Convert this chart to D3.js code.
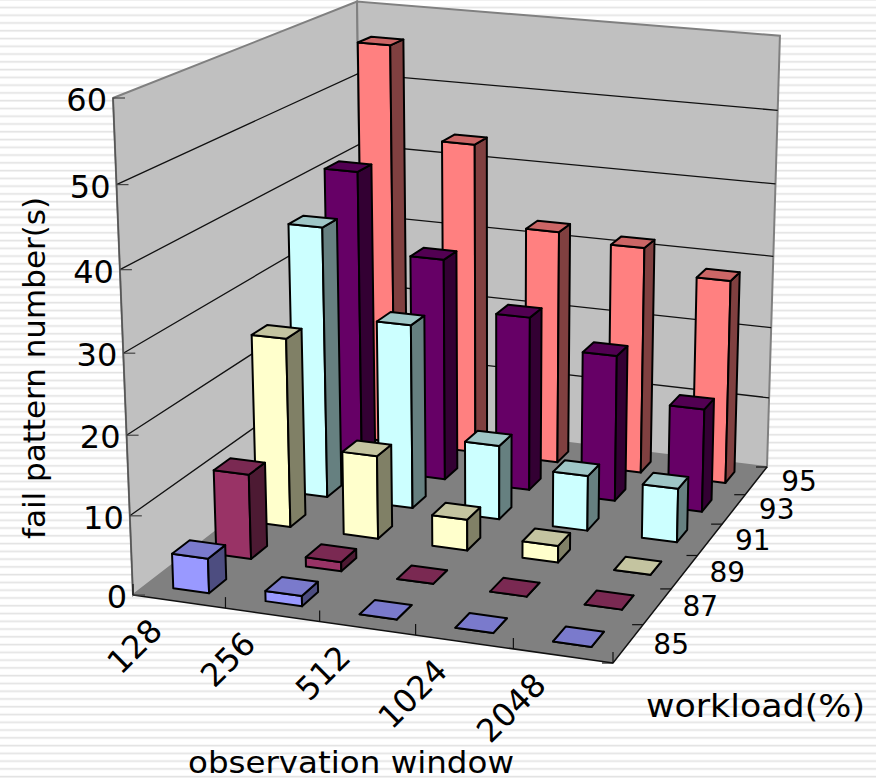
<!DOCTYPE html>
<html>
<head>
<meta charset="utf-8">
<script src="https://cdn.jsdelivr.net/npm/d3@7"></script>
<style>
    html, body { margin: 0; padding: 0; background: #fff; }
    svg { display: block; }
    text { font-family: "DejaVu Sans", sans-serif; fill: #000; }
</style>
</head>
<body>
<svg id="chart" width="876" height="779"></svg>
<script>
// data
let windows = ["128", "256", "512", "1024", "2048"];
let workloads = ["85", "87", "89", "91", "93", "95"];
let wl85 = [4.4, 1.3, 0, 0, 0];
let wl87 = [11, 1.2, 0, 0, 0];
let wl89 = [25, 11, 4.1, 2.2, 0];
let wl91 = [36.5, 24.8, 10, 7.4, 7.2];
let wl93 = [41.2, 30.5, 23.9, 20, 14.1];
let wl95 = [56, 43.5, 32.6, 31.6, 28.3];
let series = [wl85, wl87, wl89, wl91, wl93, wl95];
let yTicks = [0, 10, 20, 30, 40, 50, 60];

// front, side, top
let colors = [
    ["#9999ff", "#4d4d80", "#7a7acc"],
    ["#993366", "#4d1a33", "#7a2952"],
    ["#ffffcc", "#808066", "#c4c4a0"],
    ["#ccffff", "#668080", "#9fc6c6"],
    ["#660066", "#330033", "#520052"],
    ["#ff8080", "#804040", "#cc6666"]
];

let svg = d3.select("#chart");

// striped slide background
let pattern = svg.append("defs").append("pattern")
    .attr("id", "stripes")
    .attr("patternUnits", "userSpaceOnUse")
    .attr("width", 8).attr("height", 7.77);
pattern.append("rect").attr("width", 8).attr("height", 7.77).attr("fill", "#fff");
pattern.append("rect").attr("y", 6.6).attr("width", 8).attr("height", 1.17).attr("fill", "#e3e3e3");
pattern.append("rect").attr("y", 0).attr("width", 8).attr("height", 0.5).attr("fill", "#e3e3e3");
svg.append("rect").attr("width", 876).attr("height", 779).attr("fill", "url(#stripes)");

// the plot box, as seen on the picture
let A = [133, 595], B = [613, 663], C = [767, 467], D = [363, 418];
let vanish = [494, 9571];
let wallTopY = 98;

// floor homography, unit square -> A B C D
let sx = A[0] - B[0] + C[0] - D[0], sy = A[1] - B[1] + C[1] - D[1];
let dx1 = B[0] - C[0], dx2 = D[0] - C[0], dy1 = B[1] - C[1], dy2 = D[1] - C[1];
let den = dx1 * dy2 - dx2 * dy1;
let g = (sx * dy2 - dx2 * sy) / den;
let h = (dx1 * sy - sx * dy1) / den;
let a = B[0] - A[0] + g * B[0], b = D[0] - A[0] + h * D[0];
let d = B[1] - A[1] + g * B[1], e = D[1] - A[1] + h * D[1];
let s = (wallTopY - A[1]) / (vanish[1] - wallTopY);

function project(u, v, w) {
    let W = g * u + h * v + 1 + s * w;
    return [(a * u + b * v + A[0] + s * vanish[0] * w) / W,
            (d * u + e * v + A[1] + s * vanish[1] * w) / W];
}

let xScale = d3.scaleBand().domain(windows).range([0, 1]).paddingInner(0.61).paddingOuter(0.3).align(0.485);
let zScale = d3.scaleBand().domain(workloads).range([0, 1]).paddingInner(0.6).paddingOuter(0.3);
let yScale = d3.scaleLinear().domain([0, 60]).range([0, 1]);
let xStep = 1 / windows.length, zStep = 1 / workloads.length;

let line = d3.line();
function poly(pts) { return line(pts) + "Z"; }

// walls and floor
let wallTop = yScale(60);
svg.append("path")
    .attr("d", poly([project(0, 0, 0), project(0, 1, 0), project(0, 1, wallTop), project(0, 0, wallTop)]))
    .attr("fill", "#c0c0c0").attr("stroke", "#808080").attr("stroke-width", 2);
svg.append("path")
    .attr("d", poly([project(0, 1, 0), project(1, 1, 0), project(1, 1, wallTop), project(0, 1, wallTop)]))
    .attr("fill", "#c0c0c0").attr("stroke", "#808080").attr("stroke-width", 2);
svg.append("path")
    .attr("d", poly([project(0, 0, 0), project(1, 0, 0), project(1, 1, 0), project(0, 1, 0)]))
    .attr("fill", "#808080");

// gridlines
yTicks.filter(t => t > 0 && t < 60).forEach(t => {
    let w = yScale(t);
    svg.append("path")
        .attr("d", line([project(0, 0, w), project(0, 1, w), project(1, 1, w)]))
        .attr("fill", "none").attr("stroke", "#111").attr("stroke-width", 1.3);
});

// floor edges
svg.append("path")
    .attr("d", line([project(0, 0, 0), project(1, 0, 0), project(1, 1, 0)]))
    .attr("fill", "none").attr("stroke", "#111").attr("stroke-width", 1.5);
svg.append("path")
    .attr("d", line([project(0, 0, 0), project(0, 0, wallTop)]))
    .attr("fill", "none").attr("stroke", "#555").attr("stroke-width", 1.5);

// value axis
yTicks.forEach(t => {
    let p = project(0, 0, yScale(t));
    svg.append("line").attr("x1", p[0]).attr("x2", p[0] + 12).attr("y1", p[1]).attr("y2", p[1])
        .attr("stroke", "#444").attr("stroke-width", 1.2);
    svg.append("text").attr("x", p[0] - 6).attr("y", p[1] + 13)
        .attr("text-anchor", "end").attr("font-size", 32).text(t);
});

// window axis
d3.range(windows.length + 1).forEach(i => {
    let p = project(i * xStep, 0, 0);
    svg.append("line").attr("x1", p[0]).attr("x2", p[0]).attr("y1", p[1]).attr("y2", p[1] - 11)
        .attr("stroke", "#111").attr("stroke-width", 1.2);
});
windows.forEach((c, i) => {
    let p = project((i + 0.5) * xStep, 0, 0);
    svg.append("text")
        .attr("transform", "translate(" + (p[0] - 15) + "," + (p[1] + 31) + ") rotate(-45)")
        .attr("text-anchor", "end").attr("font-size", 32).text(c);
});

// workload axis
d3.range(workloads.length + 1).forEach(i => {
    let p = project(1, i * zStep, 0);
    svg.append("line").attr("x1", p[0]).attr("x2", p[0] - 11).attr("y1", p[1]).attr("y2", p[1])
        .attr("stroke", "#111").attr("stroke-width", 1.2);
});
workloads.forEach((c, i) => {
    let p = project(1, (i + 0.5) * zStep, 0);
    svg.append("text").attr("x", p[0] + 25).attr("y", p[1] + 10)
        .attr("font-size", 28).text(c);
});

// bars, back to front and left to right so the nearer ones cover the others
for (let si = series.length - 1; si >= 0; si--) {
    let z0 = zScale(workloads[si]), z1 = z0 + zScale.bandwidth();
    windows.forEach((c, ci) => {
        let x0 = xScale(c), x1 = x0 + xScale.bandwidth();
        let w = yScale(series[si][ci]);
        let faces = [
            [[project(x0, z0, 0), project(x1, z0, 0), project(x1, z0, w), project(x0, z0, w)], colors[si][0]],
            [[project(x1, z0, 0), project(x1, z1, 0), project(x1, z1, w), project(x1, z0, w)], colors[si][1]],
            [[project(x0, z0, w), project(x1, z0, w), project(x1, z1, w), project(x0, z1, w)], colors[si][2]]
        ];
        svg.selectAll(null).data(faces).enter().append("path")
            .attr("d", f => poly(f[0]))
            .attr("fill", f => f[1])
            .attr("stroke", "#000")
            .attr("stroke-width", 2)
            .attr("stroke-linejoin", "round");
    });
}

// axis titles
svg.append("text").attr("transform", "translate(45,368) rotate(-90)")
    .attr("text-anchor", "middle").attr("font-size", 31).text("fail pattern number(s)");
svg.append("text").attr("x", 351).attr("y", 773)
    .attr("text-anchor", "middle").attr("font-size", 31)
    .attr("textLength", 326).attr("lengthAdjust", "spacingAndGlyphs").text("observation window");
svg.append("text").attr("x", 755.5).attr("y", 717)
    .attr("text-anchor", "middle").attr("font-size", 32)
    .attr("textLength", 219).attr("lengthAdjust", "spacingAndGlyphs").text("workload(%)");
</script>
</body>
</html>
